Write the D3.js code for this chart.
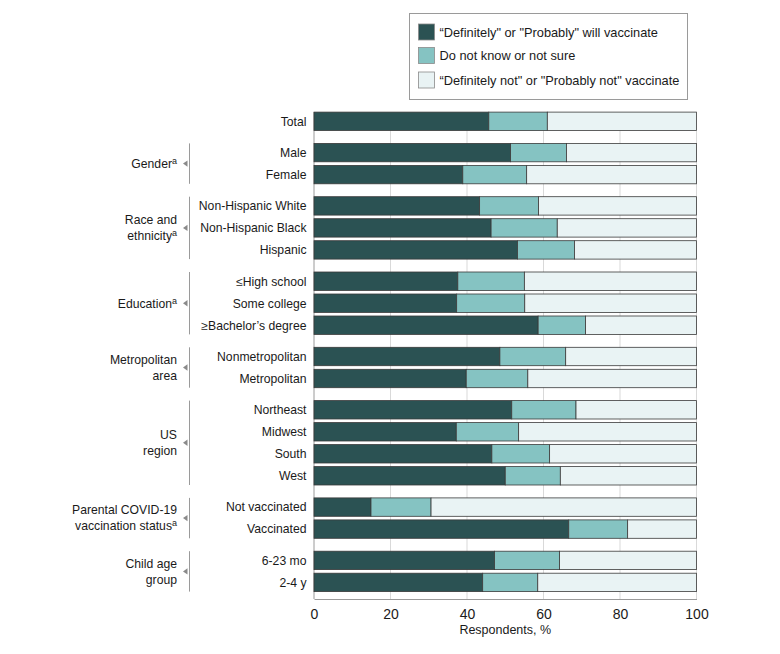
<!DOCTYPE html>
<html><head><meta charset="utf-8">
<script src="https://cdn.jsdelivr.net/npm/d3@7"></script>
<style>
body{margin:0;background:#fff;}
svg{display:block;font-family:"Liberation Sans", Arial, sans-serif;}
</style></head>
<body>
<svg id="chart" width="780" height="654"></svg>
<script>
const categories = ["Total","Male","Female","Non-Hispanic White","Non-Hispanic Black","Hispanic","≤High school","Some college","≥Bachelor’s degree","Nonmetropolitan","Metropolitan","Northeast","Midwest","South","West","Not vaccinated","Vaccinated","6-23 mo","2-4 y"];
const groupOf = [0,1,1,2,2,2,3,3,3,4,4,5,5,5,5,6,6,7,7];
const groupLabels = [null, ["Gender|a"], ["Race and","ethnicity|a"], ["Education|a"], ["Metropolitan","area"], ["US","region"], ["Parental COVID-19","vaccination status|a"], ["Child age","group"]];
const willVaccinate = [45.7,51.4,38.9,43.3,46.3,53.2,37.6,37.3,58.6,48.6,39.8,51.7,37.2,46.5,50.0,14.9,66.6,47.2,44.1];
const notSure = [15.3,14.6,16.7,15.4,17.3,14.9,17.4,17.8,12.4,17.2,16.1,16.8,16.3,15.1,14.4,15.7,15.4,17.0,14.4];
const seriesNames = ["\u201CDefinitely\" or \"Probably\" will vaccinate","Do not know or not sure","\u201CDefinitely not\" or \"Probably not\" vaccinate"];
const xTicks = [0,20,40,60,80,100];
const colors = ["#2b5253","#85c3c2","#e9f3f4"];

const svg = d3.select("#chart");
const x = d3.scaleLinear().domain([0,100]).range([314,696.5]);
const rowStep = 22, gapExtra = 9.3;
const slot = categories.map((c,i)=> i*rowStep + groupOf[i]*gapExtra);
const y = d3.scaleLinear().domain([0, 1]).range([121.3, 122.3]);
const barH = 18.4;
const rows = categories.map((c,i)=>{
  const a = willVaccinate[i], b = notSure[i];
  return {name:c, cy:y(slot[i]), segs:[[0,a],[a,a+b],[a+b,100]]};
});

const axisY = 599;
const topBar = rows[0].cy - barH/2;
const gridTop = rows[0].cy + barH/2;

svg.append("g").selectAll("line").data(xTicks.slice(1)).join("line")
  .attr("x1",d=>x(d)).attr("x2",d=>x(d)).attr("y1",gridTop).attr("y2",axisY)
  .attr("stroke","#d9d9d9").attr("stroke-width",1);
svg.append("line").attr("x1",x(0)).attr("x2",x(0)).attr("y1",topBar).attr("y2",axisY)
  .attr("stroke","#9a9a9a").attr("stroke-width",1);

const rowG = svg.append("g").selectAll("g").data(rows).join("g");
rowG.selectAll("rect").data(d=>d.segs.map((s,k)=>({s,k,cy:d.cy}))).join("rect")
  .attr("x",d=>x(d.s[0])).attr("width",d=>x(d.s[1])-x(d.s[0]))
  .attr("y",d=>d.cy-barH/2).attr("height",barH)
  .attr("fill",d=>colors[d.k]).attr("stroke","#3a3a3a").attr("stroke-width",0.8);

svg.append("g").selectAll("text").data(rows).join("text")
  .attr("x",306.5).attr("y",d=>d.cy).attr("dy","0.36em").attr("text-anchor","end")
  .attr("font-size",12.2).attr("fill","#1a1a1a").text(d=>d.name);

const axis = d3.axisBottom(x).tickValues(xTicks).tickSize(0).tickPadding(10);
const ax = svg.append("g").attr("transform",`translate(0,${axisY})`).call(axis);
ax.select(".domain").attr("stroke","#9a9a9a");
ax.selectAll("text").attr("font-size",14).attr("fill","#1a1a1a").attr("font-family","'Liberation Sans', Arial, sans-serif");
svg.append("text").attr("x",(x(0)+x(100))/2).attr("y",633.5).attr("text-anchor","middle")
  .attr("font-size",12.5).attr("fill","#1a1a1a").text("Respondents, %");

for (let g=1; g<groupLabels.length; g++){
  const idx = rows.map((r,i)=>i).filter(i=>groupOf[i]===g);
  const top = rows[idx[0]].cy - barH/2, bot = rows[idx[idx.length-1]].cy + barH/2;
  const mid = (top+bot)/2;
  svg.append("line").attr("x1",189.5).attr("x2",189.5).attr("y1",top).attr("y2",bot)
    .attr("stroke","#9a9a9a").attr("stroke-width",1);
  svg.append("path").attr("d",`M183,${mid} L187.5,${mid-3.2} L187.5,${mid+3.2} Z`).attr("fill","#8a8a8a");
  const lines = groupLabels[g];
  const lh = 16;
  lines.forEach((ln,j)=>{
    const cy = mid + (j-(lines.length-1)/2)*lh;
    const parts = ln.split("|");
    const t = svg.append("text").attr("x",177).attr("y",cy).attr("dy","0.36em")
      .attr("text-anchor","end").attr("font-size",12.2).attr("fill","#1a1a1a");
    t.append("tspan").text(parts[0]);
    if (parts[1]) t.append("tspan").attr("font-size",9).attr("dy","-0.45em").text(parts[1]);
  });
}

const lg = svg.append("g");
lg.append("rect").attr("x",409.5).attr("y",13.5).attr("width",278).attr("height",86)
  .attr("fill","#fff").attr("stroke","#9a9a9a").attr("stroke-width",1);
const legY = [32,55.5,80];
seriesNames.forEach((n,i)=>{
  lg.append("rect").attr("x",418.5).attr("y",legY[i]-8).attr("width",16).attr("height",16)
    .attr("fill",colors[i]).attr("stroke","#8a8a8a").attr("stroke-width",0.8);
  lg.append("text").attr("x",439.5).attr("y",legY[i]).attr("dy","0.36em")
    .attr("font-size",12.8).attr("fill","#1a1a1a").text(n);
});
</script>
</body></html>
